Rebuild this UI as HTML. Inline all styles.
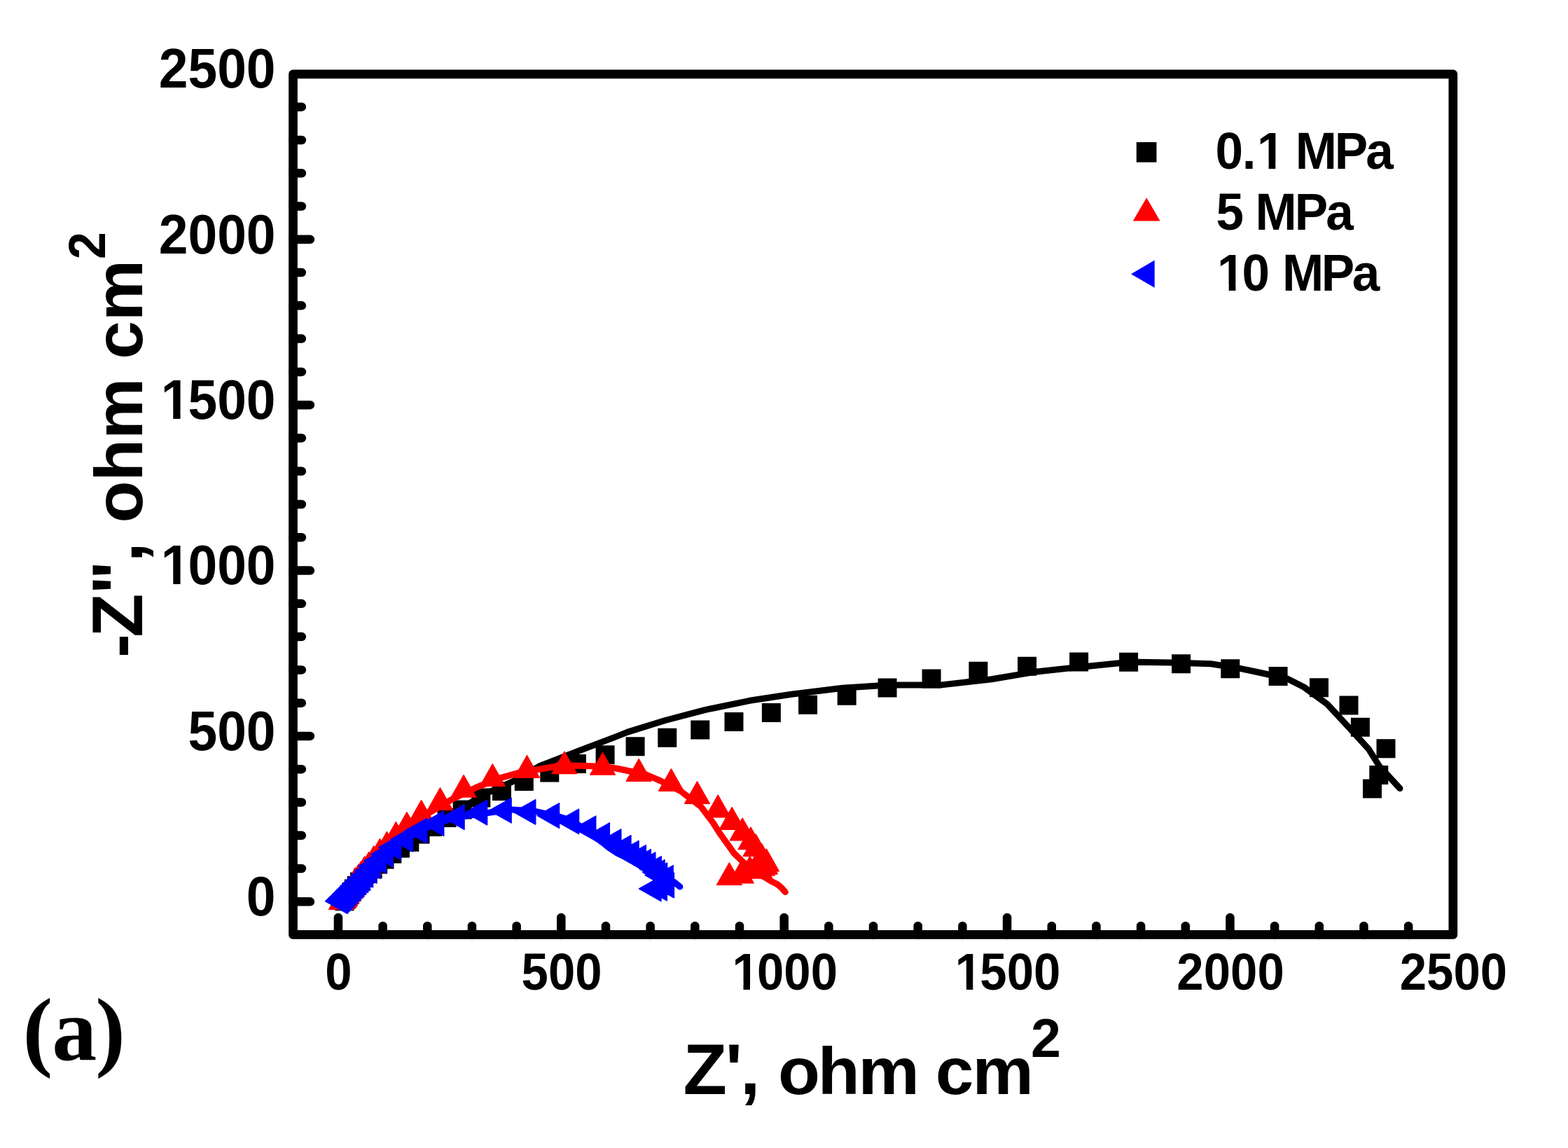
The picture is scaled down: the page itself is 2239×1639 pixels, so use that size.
<!DOCTYPE html><html><head><meta charset="utf-8"><title>Nyquist plot</title><style>html,body{margin:0;padding:0;background:#fff;}svg{display:block;}text{font-kerning:none;}</style></head><body>
<svg width="2239" height="1639" viewBox="0 0 2239 1639">
<rect width="2239" height="1639" fill="#fff"/>
<g>
<polyline points="492,1287 505,1266 520,1251 535,1238 560,1219 600,1191 640,1165 693,1133.4 733.6,1115.1 770.6,1093.6 826.5,1072 880,1051.6 896.3,1045.1 949.9,1028.5 1007.5,1013.3 1070.5,1000.3 1130,991.3 1203.2,982.3 1253.3,979.1 1281,977.9 1344.4,977.9 1415.8,969.8 1480.2,958.9 1553.6,951.2 1597.8,946.8 1625,945.3 1672.9,946.1 1729.1,947.7 1770.7,954.4 1800,960.5 1837.7,968.8 1862,981 1895.3,1005.4 1927.4,1040 1954.3,1069.4 1969.6,1093.8 1999,1125.6" fill="none" stroke="#000" stroke-width="9" stroke-linejoin="round" stroke-linecap="round"/>
<path d="M478.5 1273.2h27v27h-27zM480.56 1270.39h27v27h-27zM482.87 1267.25h27v27h-27zM485.46 1263.73h27v27h-27zM488.48 1259.88h27v27h-27zM491.89 1255.59h27v27h-27zM495.71 1250.78h27v27h-27zM499.99 1245.4h27v27h-27zM505.33 1239.87h27v27h-27zM511.59 1233.94h27v27h-27zM518.6 1227.3h27v27h-27zM526.2 1220.5h27v27h-27zM535.5 1213.6h27v27h-27zM546.3 1205.6h27v27h-27zM558 1197.6h27v27h-27zM571.3 1188.7h27v27h-27zM586.5 1177.5h27v27h-27zM604.1 1167h27v27h-27zM624.6 1154.1h27v27h-27zM646.7 1142.5h27v27h-27zM673.3 1125.5h27v27h-27zM703 1116h27v27h-27zM734.8 1102.1h27v27h-27zM771.3 1089.5h27v27h-27zM809.9 1076.9h27v27h-27zM850.6 1064.2h27v27h-27zM893.6 1052.3h27v27h-27zM939.3 1039.7h27v27h-27zM986.3 1028.5h27v27h-27zM1034.5 1016.9h27v27h-27zM1087.9 1003.9h27v27h-27zM1140.1 992.7h27v27h-27zM1195.7 979.8h27v27h-27zM1253.6 968.5h27v27h-27zM1316.6 955.4h27v27h-27zM1383.4 944.8h27v27h-27zM1453.1 937.7h27v27h-27zM1527.1 931.4h27v27h-27zM1598.1 931.8h27v27h-27zM1673.1 934.2h27v27h-27zM1743.3 941.2h27v27h-27zM1811.6 951.9h27v27h-27zM1870 968.3h27v27h-27zM1912.5 993.4h27v27h-27zM1928.9 1024.7h27v27h-27zM1965.5 1055.2h27v27h-27zM1955.3 1093h27v27h-27zM1946 1112.5h27v27h-27z" fill="#000"/>
</g>
<g>
<polyline points="487.4,1287.3 500,1266 512,1252 530,1232 552,1210 580,1184 610,1162 645,1141.5 680,1124.3 713,1111.2 740.7,1103.4 764.9,1099.3 796.1,1093.7 818.5,1092.9 849.7,1093.9 880,1097 901.5,1101.5 923,1106 944.4,1115.4 972,1129.5 1001.2,1152 1018.2,1174.6 1027.5,1189.3 1038,1204 1048.5,1218.6 1058.5,1228.3 1075,1243 1092,1252.5 1101,1258 1110,1262.6 1116,1267.5 1121.3,1273.6" fill="none" stroke="#f00" stroke-width="9" stroke-linejoin="round" stroke-linecap="round"/>
<path d="M487.4 1266.87L505.2 1298.37L469.6 1298.37zM491.01 1263.94L508.81 1295.44L473.21 1295.44zM492.82 1261.38L510.62 1292.88L475.02 1292.88zM495 1258.32L512.8 1289.82L477.2 1289.82zM497.6 1254.64L515.4 1286.14L479.8 1286.14zM500.74 1250.22L518.54 1281.72L482.94 1281.72zM504.49 1244.93L522.29 1276.43L486.69 1276.43zM507.3 1239.1L525.1 1270.6L489.5 1270.6zM511.7 1234.2L529.5 1265.7L493.9 1265.7zM515.6 1229.8L533.4 1261.3L497.8 1261.3zM520.5 1222.9L538.3 1254.4L502.7 1254.4zM526.6 1216.6L544.4 1248.1L508.8 1248.1zM533.7 1207.8L551.5 1239.3L515.9 1239.3zM542.4 1197.7L560.2 1229.2L524.6 1229.2zM552.4 1187.6L570.2 1219.1L534.6 1219.1zM565.4 1173.5L583.2 1205L547.6 1205zM580.9 1159.5L598.7 1191L563.1 1191zM601.6 1142.7L619.4 1174.2L583.8 1174.2zM628.5 1124.8L646.3 1156.3L610.7 1156.3zM662.1 1106.6L679.9 1138.1L644.3 1138.1zM703.3 1090.9L721.1 1122.4L685.5 1122.4zM752.5 1078.7L770.3 1110.2L734.7 1110.2zM805.9 1073L823.7 1104.5L788.1 1104.5zM860.6 1074.6L878.4 1106.1L842.8 1106.1zM912.2 1083.7L930 1115.2L894.4 1115.2zM958.4 1097.8L976.2 1129.3L940.6 1129.3zM995.5 1115.8L1013.3 1147.3L977.7 1147.3zM1025.2 1135.2L1043 1166.7L1007.4 1166.7zM1045.2 1152.7L1063 1184.2L1027.4 1184.2zM1060.2 1168.2L1078 1199.7L1042.4 1199.7zM1072 1181.1L1089.8 1212.6L1054.2 1212.6zM1079.1 1190.9L1096.9 1222.4L1061.3 1222.4zM1087.7 1204.7L1105.5 1236.2L1069.9 1236.2zM1094.4 1212.2L1112.2 1243.7L1076.6 1243.7zM1092.6 1216.3L1110.4 1247.8L1074.8 1247.8zM1088.6 1218.3L1106.4 1249.8L1070.8 1249.8zM1084.6 1221.6L1102.4 1253.1L1066.8 1253.1zM1070.8 1222.5L1088.6 1254L1053 1254zM1058.4 1229.3L1076.2 1260.8L1040.6 1260.8zM1041.4 1231.8L1059.2 1263.3L1023.6 1263.3z" fill="#f00" stroke="#f00" stroke-width="1.4" stroke-linejoin="round"/>
</g>
<g>
<polyline points="486.1,1286.7 518.6,1253.8 522.7,1249 527.9,1243.3 533.3,1236.5 541.5,1228.9 551.1,1219.8 562.6,1209.6 579.5,1198.3 599.7,1186.2 623.9,1175.7 653.2,1166.5 720,1157.2 731.4,1155.9 746.8,1157 765.7,1158.7 780,1161.8 800,1166.5 815,1171 829,1179.7 851.5,1196.5 860,1202.6 869.5,1210.3 881.2,1217.9 891.5,1223.1 903.2,1229.7 912.7,1234.8 918.6,1238.4 930,1245 945,1251.5 963.2,1259.7 970.9,1265.9" fill="none" stroke="#00f" stroke-width="9" stroke-linejoin="round" stroke-linecap="round"/>
<path d="M464.47 1286.7L495.97 1268.9L495.97 1304.5zM465.97 1285.18L497.47 1267.38L497.47 1302.98zM467.55 1283.57L499.05 1265.77L499.05 1301.37zM469.21 1281.89L500.71 1264.09L500.71 1299.69zM470.96 1280.13L502.46 1262.33L502.46 1297.93zM472.79 1278.28L504.29 1260.48L504.29 1296.08zM474.71 1276.33L506.21 1258.53L506.21 1294.13zM476.73 1274.29L508.23 1256.49L508.23 1292.09zM478.85 1272.14L510.35 1254.34L510.35 1289.94zM481.07 1269.89L512.57 1252.09L512.57 1287.69zM483.41 1267.52L514.91 1249.72L514.91 1285.32zM485.86 1265.04L517.36 1247.24L517.36 1282.84zM488.44 1262.43L519.94 1244.63L519.94 1280.23zM491.14 1259.69L522.64 1241.89L522.64 1277.49zM493.98 1256.82L525.48 1239.02L525.48 1274.62zM496.97 1253.8L528.47 1236L528.47 1271.6zM501.07 1249L532.57 1231.2L532.57 1266.8zM506.27 1243.3L537.77 1225.5L537.77 1261.1zM511.67 1236.5L543.17 1218.7L543.17 1254.3zM519.87 1228.9L551.37 1211.1L551.37 1246.7zM529.47 1219.8L560.97 1202L560.97 1237.6zM540.97 1209.6L572.47 1191.8L572.47 1227.4zM557.87 1198.3L589.37 1180.5L589.37 1216.1zM578.07 1186.2L609.57 1168.4L609.57 1204zM602.27 1175.7L633.77 1157.9L633.77 1193.5zM631.57 1166.5L663.07 1148.7L663.07 1184.3zM664.17 1160L695.67 1142.2L695.67 1177.8zM698.67 1157.2L730.17 1139.4L730.17 1175zM733.27 1159.3L764.77 1141.5L764.77 1177.1zM767.07 1164.5L798.57 1146.7L798.57 1182.3zM795.07 1172.9L826.57 1155.1L826.57 1190.7zM819.27 1182.9L850.77 1165.1L850.77 1200.7zM838.87 1192.6L870.37 1174.8L870.37 1210.4zM855.37 1201.7L886.87 1183.9L886.87 1219.5zM869.47 1210.5L900.97 1192.7L900.97 1228.3zM880.57 1218.2L912.07 1200.4L912.07 1236zM890.87 1224.4L922.37 1206.6L922.37 1242.2zM897.87 1230.5L929.37 1212.7L929.37 1248.3zM904.37 1234.7L935.87 1216.9L935.87 1252.5zM912.77 1240.3L944.27 1222.5L944.27 1258.1zM917.57 1245.3L949.07 1227.5L949.07 1263.1zM921.17 1249.7L952.67 1231.9L952.67 1267.5zM929.67 1253.4L961.17 1235.6L961.17 1271.2zM930.97 1264L962.47 1246.2L962.47 1281.8zM920.87 1268.2L952.37 1250.4L952.37 1286zM912.47 1268.9L943.97 1251.1L943.97 1286.7z" fill="#00f" stroke="#00f" stroke-width="1.4" stroke-linejoin="round"/>
</g>
<path d="M482.95 1334.4V1310M546.62 1334.4V1322M610.3 1334.4V1322M673.98 1334.4V1322M737.65 1334.4V1322M801.33 1334.4V1310M865 1334.4V1322M928.67 1334.4V1322M992.35 1334.4V1322M1056.03 1334.4V1322M1119.7 1334.4V1310M1183.38 1334.4V1322M1247.05 1334.4V1322M1310.73 1334.4V1322M1374.4 1334.4V1322M1438.08 1334.4V1310M1501.75 1334.4V1322M1565.43 1334.4V1322M1629.1 1334.4V1322M1692.78 1334.4V1322M1756.45 1334.4V1310M1820.13 1334.4V1322M1883.8 1334.4V1322M1947.48 1334.4V1322M2011.15 1334.4V1322M418.5 1287.3H442.9M418.5 1240.02H430.9M418.5 1192.75H430.9M418.5 1145.47H430.9M418.5 1098.2H430.9M418.5 1050.92H442.9M418.5 1003.65H430.9M418.5 956.38H430.9M418.5 909.1H430.9M418.5 861.82H430.9M418.5 814.55H442.9M418.5 767.27H430.9M418.5 720H430.9M418.5 672.72H430.9M418.5 625.45H430.9M418.5 578.17H442.9M418.5 530.9H430.9M418.5 483.62H430.9M418.5 436.35H430.9M418.5 389.07H430.9M418.5 341.8H442.9M418.5 294.52H430.9M418.5 247.25H430.9M418.5 199.97H430.9M418.5 152.7H430.9" stroke="#000" stroke-width="12.5" stroke-linecap="round" fill="none"/>
<rect x="418.5" y="105.85" width="1656.35" height="1228.55" fill="none" stroke="#000" stroke-width="12.7" stroke-linejoin="round"/>
<g font-family="'Liberation Sans', Arial, sans-serif" font-weight="bold" fill="#000">
<text x="371.56" y="1307.2" font-size="79.2" transform="scale(0.9470,1)">0</text>
<text x="283.46 327.51 371.56" y="1070.83" font-size="79.2" transform="scale(0.9470,1)">500</text>
<text x="242.62 283.46 327.51 371.56" y="834.45" font-size="79.2" transform="scale(0.9470,1)">1000</text>
<text x="242.62 283.46 327.51 371.56" y="598.07" font-size="79.2" transform="scale(0.9470,1)">1500</text>
<text x="239.41 283.46 327.51 371.56" y="361.7" font-size="79.2" transform="scale(0.9470,1)">2000</text>
<text x="239.41 283.46 327.51 371.56" y="125.32" font-size="79.2" transform="scale(0.9470,1)">2500</text>
<text x="493.33" y="1412.7" font-size="73.3" transform="scale(0.9410,1)">0</text>
<text x="791.22 831.99 872.75" y="1412.7" font-size="73.3" transform="scale(0.9410,1)">500</text>
<text x="1110.96 1148.76 1189.52 1230.29" y="1412.7" font-size="73.3" transform="scale(0.9410,1)">1000</text>
<text x="1449.3 1487.1 1527.86 1568.63" y="1412.7" font-size="73.3" transform="scale(0.9410,1)">1500</text>
<text x="1785.7 1826.47 1867.24 1908" y="1412.7" font-size="73.3" transform="scale(0.9410,1)">2000</text>
<text x="2124.04 2164.81 2205.57 2246.34" y="1412.7" font-size="73.3" transform="scale(0.9410,1)">2500</text>
<text x="1830.57 1871.11 1893.43 1935.14 1951.2 2010.36 2057.34" y="241.3" font-size="75" transform="scale(0.9480,1)">0.1 MPa</text>
<text x="1831.67 1873.38 1890.86 1950.08 1997.06" y="328.1" font-size="75" transform="scale(0.9480,1)">5 MPa</text>
<text x="1833.41 1870.76 1912.47 1931.37 1990.32 2036.72" y="415.2" font-size="75" transform="scale(0.9480,1)">10 MPa</text>
<text x="975.41 1035.86 1056.89" y="1562.4" font-size="102.3">Z',</text>
<text x="1078.63 1133.65 1189.73 1274.56 1296.79 1348.08" y="1562.4" font-size="95.4" transform="scale(1.0300,1)">ohm cm</text>
<text x="1491.51" y="1508.9" font-size="78.3" transform="scale(0.9870,1)">2</text>
<g transform="rotate(-90)">
<text x="-939.08 -909.75 -848.63 -802.57" y="203" font-size="102">-Z&quot;,</text>
<text x="-734.05 -675.52 -616.64 -530.84 -504.15 -450.61" y="203" font-size="96.5" transform="scale(1.0170,1)">ohm cm</text>
<text x="-387.46" y="150" font-size="73.3" transform="scale(0.9550,1)">2</text>
</g>
</g>
<g font-family="'Liberation Serif', 'Times New Roman', serif" font-weight="bold" fill="#000">
<text x="32.44 74.31 136.19" y="1513" font-size="128">(a)</text>
</g>
<rect x="232.99" y="824.87" width="14.28" height="11.08" fill="#fff"/>
<rect x="257.56" y="824.87" width="12.83" height="11.08" fill="#fff"/>
<rect x="232.99" y="588.49" width="14.28" height="11.08" fill="#fff"/>
<rect x="257.56" y="588.49" width="12.83" height="11.08" fill="#fff"/>
<rect x="1048.26" y="1403.72" width="13.25" height="10.48" fill="#fff"/>
<rect x="1070.98" y="1403.72" width="11.88" height="10.48" fill="#fff"/>
<rect x="1366.64" y="1403.72" width="13.25" height="10.48" fill="#fff"/>
<rect x="1389.35" y="1403.72" width="11.88" height="10.48" fill="#fff"/>
<rect x="1797.95" y="232.15" width="13.62" height="10.65" fill="#fff"/>
<rect x="1821.32" y="232.15" width="12.21" height="10.65" fill="#fff"/>
<rect x="1741.05" y="406.05" width="13.62" height="10.65" fill="#fff"/>
<rect x="1764.42" y="406.05" width="12.21" height="10.65" fill="#fff"/>
<rect x="1622.75" y="202.95" width="28.7" height="28.7" fill="#000"/>
<polygon points="1637.2,282.2 1656.6,315.4 1617.8,315.4" fill="#f00"/>
<polygon points="1615,391.15 1648.7,371.6 1648.7,410.7" fill="#00f"/>
</svg></body></html>
